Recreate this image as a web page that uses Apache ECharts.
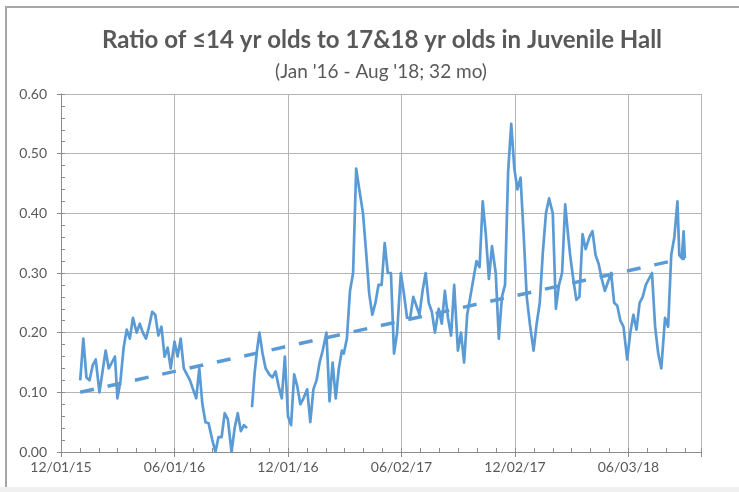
<!DOCTYPE html>
<html>
<head>
<meta charset="utf-8">
<script src="https://cdn.jsdelivr.net/npm/echarts@6/dist/echarts.min.js"></script>
<style>
html,body{margin:0;padding:0;background:#fff;}
#chart{width:739px;height:492px;}
</style>
</head>
<body>
<div id="chart"></div>
<script>
// ---- data ----
const titleText = 'Ratio of \u226414 yr olds to 17&18 yr olds in Juvenile Hall';
const subtitleText = "(Jan '16 - Aug '18; 32 mo)";

const dates = [
 '2016-01-01','2016-01-06','2016-01-11','2016-01-16','2016-01-21','2016-01-26',
 '2016-02-01','2016-02-06','2016-02-11','2016-02-16','2016-02-21','2016-02-26',
 '2016-03-01','2016-03-06','2016-03-11','2016-03-16','2016-03-21','2016-03-26',
 '2016-04-01','2016-04-06','2016-04-11','2016-04-16','2016-04-21','2016-04-26',
 '2016-05-01','2016-05-06','2016-05-11','2016-05-16','2016-05-21','2016-05-26',
 '2016-06-01','2016-06-06','2016-06-11','2016-06-16','2016-06-21','2016-06-26',
 '2016-07-01','2016-07-06','2016-07-11','2016-07-16','2016-07-21','2016-07-26',
 '2016-08-01','2016-08-06','2016-08-11','2016-08-16','2016-08-21','2016-08-26',
 '2016-09-01','2016-09-06','2016-09-11','2016-09-16','2016-09-21','2016-09-26',
 '2016-09-30',
 '2016-10-04','2016-10-08','2016-10-12','2016-10-16','2016-10-21','2016-10-26',
 '2016-11-01','2016-11-06','2016-11-11','2016-11-16','2016-11-21','2016-11-26',
 '2016-12-01','2016-12-06','2016-12-11','2016-12-16','2016-12-21','2016-12-26',
 '2017-01-01','2017-01-06','2017-01-11','2017-01-16','2017-01-21','2017-01-26',
 '2017-02-01','2017-02-06','2017-02-11','2017-02-16','2017-02-21','2017-02-26',
 '2017-03-01','2017-03-06','2017-03-11','2017-03-16','2017-03-21','2017-03-26',
 '2017-04-01','2017-04-06','2017-04-11','2017-04-16','2017-04-21','2017-04-26',
 '2017-05-01','2017-05-06','2017-05-11','2017-05-16','2017-05-21','2017-05-26',
 '2017-06-01','2017-06-06','2017-06-11','2017-06-16','2017-06-21','2017-06-26',
 '2017-07-01','2017-07-06','2017-07-11','2017-07-16','2017-07-21','2017-07-26',
 '2017-08-01','2017-08-06','2017-08-11','2017-08-16','2017-08-21','2017-08-26',
 '2017-09-01','2017-09-06','2017-09-11','2017-09-16','2017-09-21','2017-09-26',
 '2017-10-01','2017-10-06','2017-10-11','2017-10-16','2017-10-21','2017-10-26',
 '2017-11-01','2017-11-06','2017-11-11','2017-11-16','2017-11-21','2017-11-26',
 '2017-12-01','2017-12-06','2017-12-11','2017-12-16','2017-12-21','2017-12-26',
 '2018-01-01','2018-01-06','2018-01-11','2018-01-16','2018-01-21','2018-01-26',
 '2018-02-01','2018-02-06','2018-02-11','2018-02-16','2018-02-21','2018-02-26',
 '2018-03-01','2018-03-06','2018-03-11','2018-03-16','2018-03-21','2018-03-26',
 '2018-04-01','2018-04-06','2018-04-11','2018-04-16','2018-04-21','2018-04-26',
 '2018-05-01','2018-05-06','2018-05-11','2018-05-16','2018-05-21','2018-05-26',
 '2018-06-01','2018-06-06','2018-06-11','2018-06-16','2018-06-21','2018-06-26',
 '2018-07-01','2018-07-06','2018-07-11','2018-07-16','2018-07-21','2018-07-26',
 '2018-08-01','2018-08-06','2018-08-11','2018-08-16','2018-08-21','2018-08-24',
 '2018-08-28','2018-08-31','2018-09-02'
];

const ratio = [
 0.12,0.19,0.125,0.12,0.145,0.155,
 0.10,0.135,0.17,0.14,0.15,0.16,
 0.09,0.12,0.175,0.205,0.19,0.225,
 0.20,0.215,0.20,0.19,0.21,0.235,
 0.23,0.195,0.21,0.16,0.175,0.14,
 0.185,0.16,0.19,0.14,0.13,0.12,
 0.105,0.09,0.14,0.08,0.05,0.048,
 0.02,0.0,0.025,0.025,0.065,0.055,
 0.0,0.04,0.065,0.035,0.045,0.04,
 null,
 0.075,0.13,0.17,0.20,0.165,0.14,
 0.13,0.125,0.135,0.11,0.09,0.16,
 0.06,0.045,0.13,0.11,0.08,0.09,
 0.105,0.05,0.105,0.12,0.15,0.17,
 0.20,0.085,0.15,0.09,0.14,0.17,
 0.165,0.19,0.27,0.30,0.475,0.44,
 0.40,0.335,0.265,0.23,0.25,0.28,
 0.28,0.35,0.30,0.30,0.165,0.20,
 0.30,0.265,0.225,0.225,0.26,0.245,
 0.23,0.27,0.30,0.25,0.235,0.20,
 0.24,0.215,0.27,0.225,0.195,0.28,
 0.17,0.20,0.15,0.23,0.26,0.29,
 0.32,0.31,0.42,0.365,0.29,0.345,
 0.30,0.19,0.26,0.28,0.47,0.55,
 0.475,0.44,0.46,0.365,0.26,0.215,
 0.17,0.215,0.25,0.335,0.40,0.425,
 0.40,0.24,0.28,0.30,0.415,0.36,
 0.33,0.29,0.255,0.26,0.365,0.34,
 0.36,0.37,0.33,0.315,0.29,0.27,
 0.285,0.30,0.25,0.245,0.22,0.21,
 0.155,0.20,0.23,0.205,0.25,0.26,
 0.28,0.29,0.30,0.21,0.165,0.14,
 0.225,0.21,0.33,0.36,0.42,0.33,
 0.325,0.37,0.325
];

// linear trend line, end points
const trendDates = ['2016-01-01','2018-09-02'];
const trendValues = [0.10, 0.325];

// axis tick labels
const xTickLabels = ['12/01/15','06/01/16','12/01/16','06/02/17','12/02/17','06/03/18'];
const yTickLabels = ['0.00','0.10','0.20','0.30','0.40','0.50','0.60'];

// ---- chart ----
const DAY = 86400000;
const X_MIN = Date.parse('2015-12-01');
const X_MAX = Date.parse('2018-09-28');
const X_STEP = 183 * DAY;
const X_MINOR = 30.5 * DAY;

const pad = n => (n < 10 ? '0' : '') + n;
function fmtDate(v) {
  const d = new Date(v);
  return pad(d.getUTCMonth() + 1) + '/' + pad(d.getUTCDate()) + '/' + pad(d.getUTCFullYear() % 100);
}

const seriesData = dates.map((d, i) => [Date.parse(d), ratio[i] === null ? '-' : ratio[i]]);
const trendData = trendDates.map((d, i) => [Date.parse(d), trendValues[i]]);

const FONT = 'Lato, "Open Sans", sans-serif';
const TXT = '#595959';
const GRID = '#b5b5b5';
const AXIS = '#8c8c8c';
const BLUE = '#5B9BD5';

const chart = echarts.init(document.getElementById('chart'), null, {renderer: 'canvas'});
chart.setOption({
  backgroundColor: '#ffffff',
  animation: false,
  title: [
    {text: titleText, left: 377, top: 23, textAlign: 'center',
     textStyle: {fontFamily: FONT, fontWeight: 'bold', fontSize: 24, color: TXT}},
    {text: subtitleText, left: 376, top: 57, textAlign: 'center',
     textStyle: {fontFamily: FONT, fontWeight: 'normal', fontSize: 19, color: TXT}}
  ],
  graphic: [
    {type: 'rect', shape: {x: 0, y: 487, width: 739, height: 5}, style: {fill: '#f0f0f0'}, silent: true},
    {type: 'line', shape: {x1: 5, y1: 7, x2: 739, y2: 7}, style: {stroke: '#a6a6a6', lineWidth: 2}, silent: true},
    {type: 'line', shape: {x1: 6, y1: 7, x2: 6, y2: 487}, style: {stroke: '#a6a6a6', lineWidth: 2}, silent: true}
  ],
  grid: {left: 61, right: 38, top: 94, bottom: 40, containLabel: false},
  xAxis: [
    {
      type: 'value', min: X_MIN, max: X_MAX, interval: X_STEP, position: 'bottom',
      axisLine: {show: true, lineStyle: {color: AXIS, width: 1}},
      axisTick: {show: true, inside: false, length: 5, lineStyle: {color: AXIS}},
      splitLine: {show: true, lineStyle: {color: GRID, width: 1}},
      axisLabel: {
        margin: 8, color: TXT, fontFamily: FONT, fontSize: 14,
        formatter: v => {
          const k = Math.round((v - X_MIN) / X_STEP);
          if (Math.abs(v - X_MIN - k * X_STEP) > DAY / 2) return '';
          return xTickLabels[k] !== undefined ? xTickLabels[k] : fmtDate(v);
        }
      }
    },
    {
      type: 'value', min: X_MIN, max: X_MAX, interval: X_MINOR, position: 'bottom',
      axisLine: {show: false},
      axisTick: {show: true, inside: true, length: 4, lineStyle: {color: AXIS}},
      splitLine: {show: false},
      axisLabel: {show: false}
    }
  ],
  yAxis: [
    {
      type: 'value', min: 0, max: 0.6, interval: 0.1, position: 'left',
      axisLine: {show: true, lineStyle: {color: AXIS, width: 1}},
      axisTick: {show: true, inside: true, length: 4, lineStyle: {color: AXIS}},
      minorTick: {show: true, splitNumber: 5, length: 4, lineStyle: {color: AXIS}},
      splitLine: {show: true, lineStyle: {color: GRID, width: 1}},
      axisLabel: {
        margin: 14, color: TXT, fontFamily: FONT, fontSize: 14,
        formatter: v => yTickLabels[Math.round(v * 10)]
      }
    },
    {
      type: 'value', min: 0, max: 0.6, interval: 0.1, position: 'left',
      axisLine: {show: false},
      axisTick: {show: true, inside: false, length: 4, lineStyle: {color: AXIS}},
      splitLine: {show: false},
      axisLabel: {show: false}
    }
  ],
  series: [
    {
      name: 'Ratio', type: 'line', xAxisIndex: 0, yAxisIndex: 0,
      data: seriesData, showSymbol: false, symbol: 'none', connectNulls: false,
      lineStyle: {color: BLUE, width: 2.7, join: 'round'}, z: 2
    },
    {
      name: 'Trend', type: 'line', xAxisIndex: 0, yAxisIndex: 0,
      data: trendData, showSymbol: false, symbol: 'none',
      lineStyle: {color: BLUE, width: 3.5, type: [14, 14], cap: 'butt'}, z: 3
    }
  ]
});
</script>
</body>
</html>
